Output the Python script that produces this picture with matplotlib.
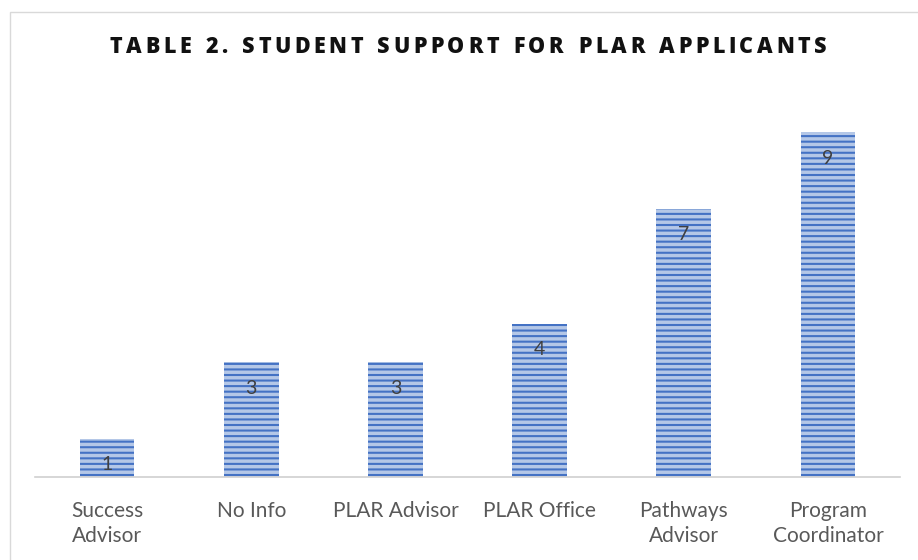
import matplotlib
matplotlib.use('Agg')
import matplotlib.pyplot as plt
from matplotlib.patches import Rectangle

categories = ['Success\nAdvisor', 'No Info', 'PLAR Advisor', 'PLAR Office',
              'Pathways\nAdvisor', 'Program\nCoordinator']
values = [1, 3, 3, 4, 7, 9]
title = 'TABLE 2. STUDENT SUPPORT FOR PLAR APPLICANTS'

plt.rcParams['font.family'] = ['Lato', 'DejaVu Sans']
plt.rcParams['hatch.color'] = '#4472c4'
plt.rcParams['hatch.linewidth'] = 1.5

fig = plt.figure(figsize=(9.18, 5.6), dpi=100)
ax = fig.add_axes([35 / 918, 1 - 477 / 560, 865 / 918, 383 / 560])

x = range(len(values))
bars = ax.bar(x, values, width=0.38, color='#b4c7e7', edgecolor='#4472c4',
              linewidth=0, hatch='---')

for xi, v in zip(x, values):
    ax.text(xi, v - 0.68, str(v), ha='center', va='center',
            fontsize=14, color='#404040')

ax.set_xlim(-0.5, len(values) - 0.5)
ax.set_ylim(0, 10)
ax.set_yticks([])
ax.set_xticks(list(x))
ax.set_xticklabels(categories, fontsize=15, color='#595959', linespacing=1.35)
ax.tick_params(axis='x', length=0, pad=17)
for s in ['top', 'right', 'left']:
    ax.spines[s].set_visible(False)
ax.spines['bottom'].set_color('#d0d0d0')
ax.spines['bottom'].set_linewidth(1.2)

# title with wide letter spacing, drawn letter by letter
renderer = fig.canvas.get_renderer()
tprops = dict(fontsize=15.5, fontweight='heavy', color='#111111',
              family=['Open Sans', 'DejaVu Sans'], va='center', ha='left')
left_px, right_px = 110, 826
widths = []
for ch in title:
    if ch == ' ':
        t = fig.text(0, 0, 'I', **tprops)
    else:
        t = fig.text(0, 0, ch, **tprops)
    widths.append(t.get_window_extent(renderer).width)
    t.remove()
gap = (right_px - left_px - sum(widths)) / (len(title) - 1)
xpos = left_px
ty = 1 - 47 / 560
for ch, w in zip(title, widths):
    if ch != ' ':
        fig.text(xpos / 918, ty, ch, **tprops)
    xpos += w + gap

# light chart border
fig.patches.append(Rectangle((10 / 918, -0.05), 1.0, 1 - 12 / 560 + 0.05,
                             transform=fig.transFigure, fill=False,
                             edgecolor='#d9d9d9', linewidth=1))

fig.savefig('out.png', dpi=100)
